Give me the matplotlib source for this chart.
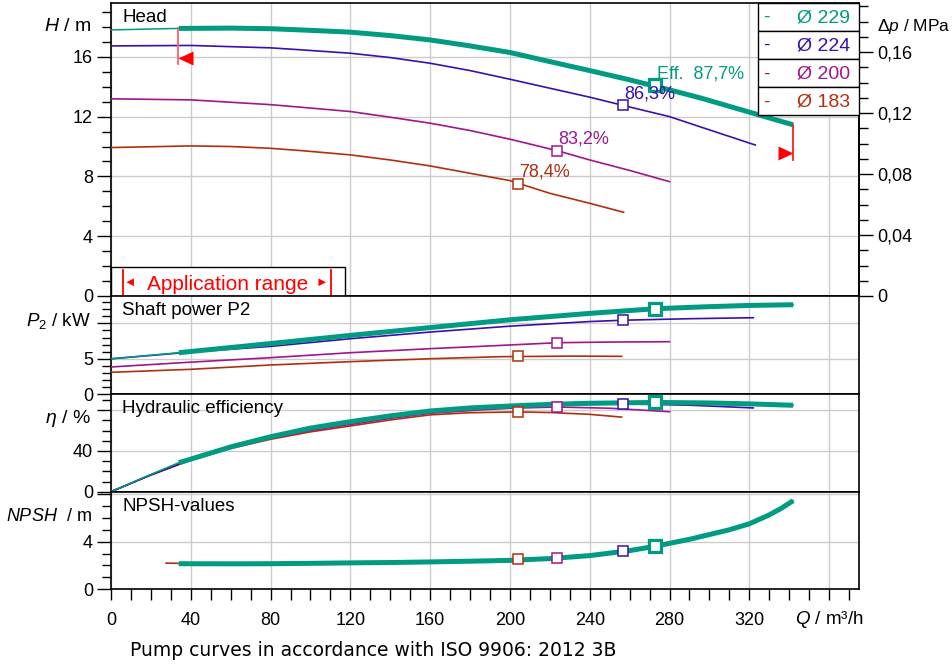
import numpy as np
import matplotlib
matplotlib.use("Agg")
import matplotlib.pyplot as plt
from matplotlib.ticker import MultipleLocator, FixedLocator, FuncFormatter
from matplotlib.patches import Rectangle

plt.rcParams['font.family'] = ['Liberation Sans', 'DejaVu Sans']
plt.rcParams['font.size'] = 13
plt.rcParams['mathtext.fontset'] = 'custom'
plt.rcParams['mathtext.rm'] = 'Liberation Sans'
plt.rcParams['mathtext.it'] = 'Liberation Sans:italic'

# impeller diameters and colours
diameters = ['Ø 229', 'Ø 224', 'Ø 200', 'Ø 183']
colors = ['#009b82', '#3a10aa', '#a0168e', '#b0300e']

# head H / m
q_h229 = [0, 34, 60, 80, 95, 120, 140, 160, 180, 200, 220, 240, 260, 280, 296, 320, 342]
h229 = [17.8, 17.9, 17.92, 17.88, 17.8, 17.65, 17.42, 17.13, 16.73, 16.29, 15.68, 15.08, 14.46, 13.79, 13.23, 12.3, 11.45]
q_h224 = [0, 40, 80, 95, 120, 140, 160, 180, 200, 220, 240, 257, 280, 296, 323]
h224 = [16.73, 16.76, 16.6, 16.47, 16.24, 15.95, 15.57, 15.08, 14.5, 13.9, 13.3, 12.74, 12.0, 11.29, 10.1]
q_h200 = [0, 40, 80, 95, 120, 140, 160, 180, 200, 224, 240, 260, 280]
h200 = [13.19, 13.12, 12.8, 12.63, 12.34, 11.96, 11.56, 11.07, 10.49, 9.71, 9.1, 8.4, 7.65]
q_h183 = [0, 40, 60, 80, 95, 120, 140, 160, 180, 200, 220, 240, 257]
h183 = [9.93, 10.04, 10.0, 9.88, 9.73, 9.44, 9.1, 8.7, 8.21, 7.72, 6.87, 6.2, 5.6]

# shaft power P2 / kW
q_p229 = [0, 34, 80, 120, 160, 200, 240, 273, 300, 320, 342]
p229 = [5.0, 5.86, 7.15, 8.3, 9.4, 10.5, 11.4, 12.06, 12.35, 12.52, 12.62]
q_p224 = [0, 40, 80, 120, 160, 200, 240, 257, 290, 322]
p224 = [5.0, 5.95, 6.75, 7.83, 8.77, 9.6, 10.25, 10.44, 10.65, 10.79]
q_p200 = [0, 40, 80, 120, 160, 185, 224, 250, 280]
p200 = [3.85, 4.53, 5.16, 5.86, 6.43, 6.75, 7.27, 7.36, 7.41]
q_p183 = [0, 40, 80, 120, 160, 195, 230, 256]
p183 = [3.1, 3.52, 4.13, 4.6, 5.01, 5.3, 5.38, 5.35]

# hydraulic efficiency / %
q_e229 = [0, 20, 34, 40, 60, 80, 100, 120, 140, 160, 180, 200, 220, 240, 273, 300, 320, 342]
e229 = [0, 17, 28.5, 32, 44, 54, 62.5, 68.8, 74.5, 79.3, 82.3, 84.2, 85.8, 86.9, 87.7, 87.2, 86.3, 84.9]
q_e224 = [0, 20, 40, 60, 80, 100, 120, 140, 160, 180, 200, 220, 257, 290, 322]
e224 = [0, 16.5, 31.5, 43.3, 53.2, 61.5, 68, 73.8, 78.5, 81.5, 83.6, 85, 86.3, 85, 82.3]
q_e200 = [0, 20, 40, 60, 80, 100, 120, 140, 160, 185, 200, 224, 250, 280]
e200 = [0, 16.5, 31.5, 43, 52.5, 60, 66, 72, 77, 80.3, 82, 83.2, 82, 78.6]
q_e183 = [0, 20, 40, 60, 80, 100, 120, 140, 160, 180, 204, 220, 240, 256]
e183 = [0, 16.5, 31, 42.5, 51.5, 58.8, 64.6, 70.5, 75.5, 77.6, 78.4, 77.8, 76, 73.3]

# NPSH / m
q_n229 = [34, 60, 80, 100, 120, 140, 160, 180, 200, 220, 240, 260, 273, 290, 300, 310, 320, 330, 336, 342]
n229 = [2.15, 2.14, 2.15, 2.18, 2.22, 2.25, 2.3, 2.36, 2.43, 2.58, 2.83, 3.25, 3.62, 4.2, 4.6, 5.0, 5.5, 6.25, 6.8, 7.45]
q_n183 = [27.6, 34]
n183 = [2.2, 2.18]

# best efficiency points
q_bep = [272.9, 256.6, 223.6, 204.0]
h_bep = [14.12, 12.76, 9.73, 7.52]
p_bep = [12.06, 10.46, 7.27, 5.39]
eff_bep = [87.7, 86.3, 83.2, 78.4]
npsh_bep = [3.66, 3.22, 2.66, 2.52]

# application range of the largest impeller
app_q = [33.8, 341.8]
app_mark_h = [15.94, 9.58]
app_line_low = [15.5, 9.1]

# pressure axis
k_mpa = 0.00981  # m of water -> MPa
dp_ticks = [0, 0.04, 0.08, 0.12, 0.16]
dp_minor = [i / 100 for i in range(1, 20)]

W, H = 953, 664
fig = plt.figure(figsize=(W / 100, H / 100), dpi=100)


def fx(px):
    return px / W


def fy(py):
    return 1 - py / H


left, right = 111, 859
panels = [(3, 296), (296, 394.3), (394.3, 491.7), (491.7, 589.3)]
axes = []
for top, bot in panels:
    axes.append(fig.add_axes([fx(left), fy(bot), fx(right - left), (bot - top) / H]))
ax_h, ax_p, ax_e, ax_n = axes

ylims = [19.6, 13.85, 95.7, 8.2]
titles = ['Head', 'Shaft power P2', 'Hydraulic efficiency', 'NPSH-values']
for ax, ym, title in zip(axes, ylims, titles):
    ax.set_xlim(0, 375)
    ax.set_ylim(0, ym)
    ax.set_xticks(range(0, 361, 40))
    ax.grid(True, which='major', color='#cccccc', lw=1)
    ax.set_axisbelow(True)
    for s in ax.spines.values():
        s.set_color('black')
        s.set_linewidth(1.2)
    ax.yaxis.set_ticks_position('left')
    ax.yaxis.set_minor_locator(MultipleLocator(1 if ym < 30 else 10))
    ax.tick_params(axis='y', which='major', direction='out', length=10, width=1, pad=3, labelsize=13)
    ax.tick_params(axis='y', which='minor', direction='out', length=6.5, width=1)
    ax.annotate(title, xy=(0, 1), xycoords='axes fraction', xytext=(8, -10.5),
                textcoords='offset points', ha='left', va='center', fontsize=13.5)

for ax in axes[:3]:
    ax.tick_params(axis='x', which='both', length=0, labelbottom=False)

ax_h.set_yticks([0, 4, 8, 12, 16])
ax_p.set_yticks([0, 5, 10], ['0', '5', ''])
ax_e.set_yticks([0, 40, 80], ['0', '40', ''])
ax_n.set_yticks([0, 4, 8], ['0', '4', ''])

ax_n.set_xticks(range(0, 361, 40), [str(v) for v in range(0, 321, 40)] + [''])
ax_n.xaxis.set_minor_locator(MultipleLocator(10))
ax_n.tick_params(axis='x', which='both', direction='out', length=8, width=1, pad=8, labelsize=13)

# right pressure axis on the head panel
sec = ax_h.secondary_yaxis('right', functions=(lambda h: h * k_mpa, lambda p: p / k_mpa))
sec.yaxis.set_major_locator(FixedLocator(dp_ticks))
sec.yaxis.set_minor_locator(FixedLocator(dp_minor))
sec.yaxis.set_major_formatter(FuncFormatter(lambda v, pos: '0' if abs(v) < 1e-9 else f'{v:.2f}'.replace('.', ',')))
sec.tick_params(which='major', direction='out', length=10, width=1, pad=3, labelsize=13)
sec.tick_params(which='minor', direction='out', length=6.5, width=1)
sec.spines['right'].set_linewidth(1.2)


def curve(ax, q, v, color, thick=False):
    q = np.array(q)
    v = np.array(v)
    if thick:
        ax.plot(q, v, color=color, lw=1.1, zorder=3)
        m = q >= app_q[0]
        ax.plot(q[m], v[m], color=color, lw=3.6, solid_capstyle='butt', zorder=4)
    else:
        ax.plot(q, v, color=color, lw=1.2, zorder=3)


head = [(q_h229, h229), (q_h224, h224), (q_h200, h200), (q_h183, h183)]
power = [(q_p229, p229), (q_p224, p224), (q_p200, p200), (q_p183, p183)]
eff = [(q_e229, e229), (q_e224, e224), (q_e200, e200), (q_e183, e183)]

for i in [3, 2, 1, 0]:
    c = colors[i]
    curve(ax_h, *head[i], c, thick=(i == 0))
    curve(ax_p, *power[i], c, thick=(i == 0))
    curve(ax_e, *eff[i], c, thick=(i == 0))

curve(ax_n, q_n183, n183, colors[3])
curve(ax_n, q_n229, n229, colors[0], thick=True)

for ax, vals in [(ax_h, h_bep), (ax_p, p_bep), (ax_e, eff_bep), (ax_n, npsh_bep)]:
    for i in [3, 2, 1, 0]:
        ax.plot(q_bep[i], vals[i], 's', mfc='white', mec=colors[i],
                ms=8 if i == 0 else 7, mew=2.3 if i == 0 else 1.1, zorder=6)

for i in range(4):
    txt = f'{eff_bep[i]:.1f}%'.replace('.', ',')
    if i == 0:
        txt = 'Eff.  ' + txt
    ax_h.annotate(txt, (q_bep[i], h_bep[i]), xytext=(1, 8), textcoords='offset points',
                  ha='left', va='center', color=colors[i], fontsize=13, zorder=7)

# application range markers
tri_left = [(0, 0), (2, 0.93), (2, -0.93), (0, 0)]
tri_right = [(0, 0), (-2, 0.93), (-2, -0.93), (0, 0)]
ax_h.plot([app_q[0]] * 2, [h229[1], app_line_low[0]], color='#ff6060', lw=1.3, zorder=5)
ax_h.plot([app_q[1]] * 2, [h229[-1], app_line_low[1]], color='#ff2020', lw=1.3, zorder=5)
ax_h.plot(app_q[0], app_mark_h[0], marker=tri_left, ms=21.6, color='#ff0000', mew=0, zorder=5)
ax_h.plot(app_q[1], app_mark_h[1], marker=tri_right, ms=21.6, color='#ff0000', mew=0, zorder=5)


def axx(px):
    return (px - left) / (right - left)


def axy(py):
    return (296 - py) / 293


# application range box
ax_h.add_patch(Rectangle((0, 0), axx(345), axy(267), transform=ax_h.transAxes,
                         facecolor='white', edgecolor='black', lw=1, zorder=8, clip_on=False))
for px in [123, 331]:
    ax_h.plot([axx(px)] * 2, [0, axy(270)], transform=ax_h.transAxes, color='red', lw=1.3, zorder=9)
ax_h.text(axx(228), axy(284), 'Application range', transform=ax_h.transAxes, color='red',
          fontsize=15, ha='center', va='center', zorder=9)
ax_h.text(axx(130), axy(283), '◄', transform=ax_h.transAxes, color='red',
          fontsize=9, ha='center', va='center', zorder=9)
ax_h.text(axx(322), axy(283), '►', transform=ax_h.transAxes, color='red',
          fontsize=9, ha='center', va='center', zorder=9)

# legend box
row_top = [2.7, 30.7, 59.0, 87.3]
row_h = 28.1
for i, (name, c) in enumerate(zip(diameters, colors)):
    y0 = axy(row_top[i] + row_h)
    ax_h.add_patch(Rectangle((axx(758), y0), 1 - axx(758), axy(row_top[i]) - y0,
                             transform=ax_h.transAxes, facecolor='white', edgecolor='black',
                             lw=1, zorder=8, clip_on=False))
    yc = axy(row_top[i] + row_h / 2 + 0.8)
    ax_h.text(axx(766.5), yc, '-', transform=ax_h.transAxes, color=c, fontsize=14,
              ha='center', va='center', zorder=9)
    ax_h.text(axx(850), yc, name, transform=ax_h.transAxes, color=c, fontsize=14,
              ha='right', va='center', zorder=9)

# axis labels
fig.text(fx(91), fy(26.7), '$H$ / m', ha='right', va='center', fontsize=14)
fig.text(fx(91), fy(321), '$P_2$ / kW', ha='right', va='center', fontsize=13.5)
fig.text(fx(91), fy(418.3), r'$\eta$ / %', ha='right', va='center', fontsize=14)
fig.text(fx(92), fy(516.7), '$NPSH$  / m', ha='right', va='center', fontsize=13)
fig.text(fx(877), fy(26), r'$\mathit{\Delta p}$ / MPa', ha='left', va='center', fontsize=12.5)
fig.text(fx(795), fy(620), '$Q$ / m³/h', ha='left', va='center', fontsize=13.5)
fig.text(fx(130), fy(651), 'Pump curves in accordance with ISO 9906: 2012 3B',
         family='DejaVu Sans', fontsize=13.5, ha='left', va='center')

fig.savefig('out.png', dpi=100)
